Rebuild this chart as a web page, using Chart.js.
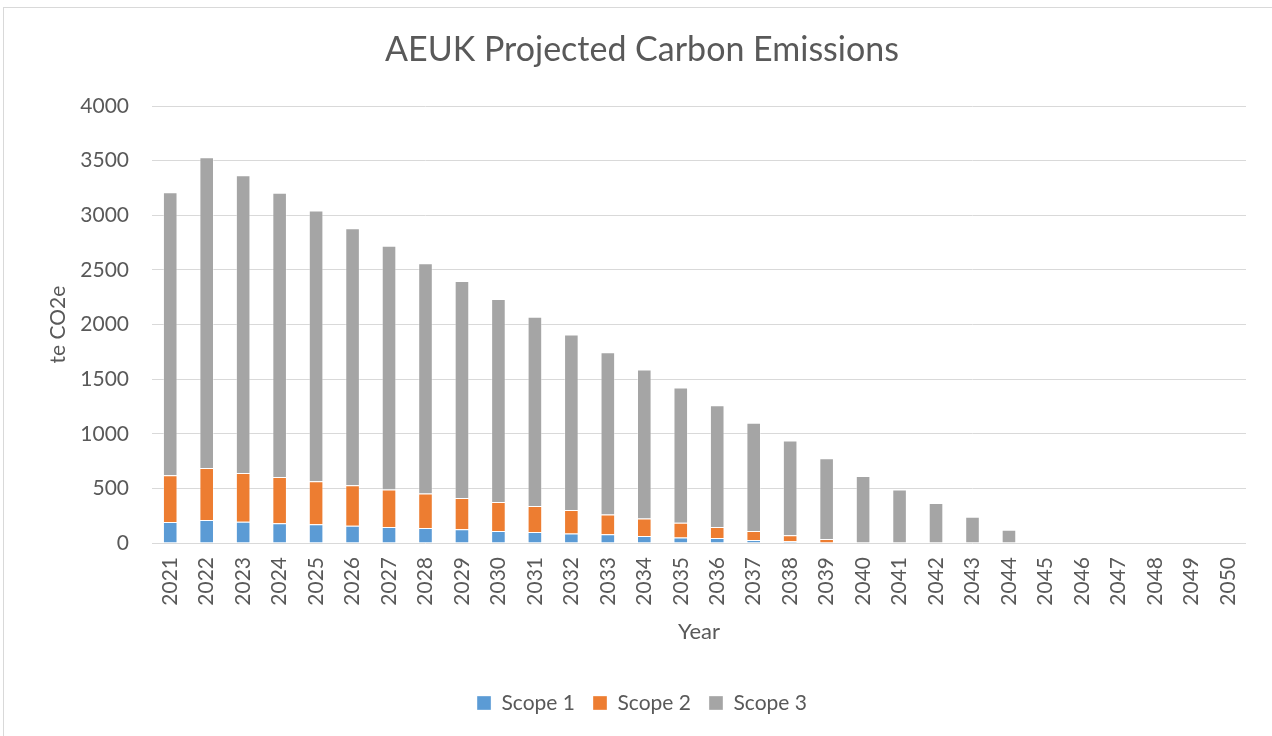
<!DOCTYPE html>
<html>
<head>
<meta charset="utf-8">
<script src="https://cdn.jsdelivr.net/npm/chart.js@4"></script>
<style>
  html, body { margin: 0; padding: 0; background: #fff; overflow: hidden; }
  #frame { position: absolute; left: 3px; top: 7px; width: 1300px; height: 800px; border: 1px solid #d9d9d9; box-sizing: border-box; }
  #c { position: absolute; left: 0; top: 0; }
</style>
</head>
<body>
<div id="frame"></div>
<canvas id="c" width="1272" height="736"></canvas>
<script>
const years = ["2021","2022","2023","2024","2025","2026","2027","2028","2029","2030",
  "2031","2032","2033","2034","2035","2036","2037","2038","2039","2040",
  "2041","2042","2043","2044","2045","2046","2047","2048","2049","2050"];
const scope1 = [192,211,195,180,171,159,147,137,125,110,101,88,79,64,51,46,27,15,5,0,0,0,0,0,0,0,0,0,0,0];
const scope2 = [427,476,446,425,394,369,342,315,287,266,238,214,183,161,135,101,83,55,32,0,0,0,0,0,0,0,0,0,0,0];
const scope3 = [2591,2843,2726,2600,2478,2353,2231,2109,1987,1858,1733,1606,1485,1364,1238,1115,991,868,739,614,489,367,241,122,0,0,0,0,0,0];
const seriesNames = ["Scope 1", "Scope 2", "Scope 3"];
const yTicks = [0, 500, 1000, 1500, 2000, 2500, 3000, 3500, 4000];

const FONT = "Lato, 'Open Sans', sans-serif";
const TXT = "#595959";
const GRID = "#d9d9d9";

const mk = (label, data, color) => ({
  label, data, backgroundColor: color,
  borderColor: "rgba(255,255,255,0.35)", borderWidth: 1,
  categoryPercentage: 0.8, barPercentage: 0.5
});

new Chart(document.getElementById("c"), {
  type: "bar",
  data: {
    labels: years,
    datasets: [
      mk(seriesNames[0], scope1, "#5B9BD5"),
      mk(seriesNames[1], scope2, "#ED7D31"),
      mk(seriesNames[2], scope3, "#A5A5A5")
    ]
  },
  options: {
    responsive: false,
    animation: false,
    devicePixelRatio: 1,
    layout: { padding: { left: 12, right: 0, top: 0, bottom: 12.5 } },
    plugins: {
      tooltip: { enabled: false },
      title: {
        display: true,
        text: "AEUK Projected Carbon Emissions",
        color: TXT,
        font: { family: FONT, size: 34, weight: "normal" },
        padding: { top: 29.6, bottom: 35.6 }
      },
      legend: {
        position: "bottom",
        labels: {
          color: TXT,
          font: { family: FONT, size: 21 },
          boxWidth: 14, boxHeight: 14,
          padding: 18
        }
      }
    },
    scales: {
      x: {
        stacked: true,
        grid: { display: false, drawTicks: false },
        border: { display: false },
        ticks: {
          color: TXT, font: { family: FONT, size: 21 },
          minRotation: 90, maxRotation: 90, padding: 14, autoSkip: false
        },
        title: {
          display: true, text: "Year", color: TXT,
          font: { family: FONT, size: 22 },
          padding: { top: 0, bottom: 29.3 }
        },
        afterFit: (s) => { s.height = 131.5; }
      },
      y: {
        stacked: true,
        min: 0, max: 4000,
        afterBuildTicks: (s) => { s.ticks = yTicks.map(v => ({ value: v })); },
        grid: { color: GRID, lineWidth: 1, drawTicks: false },
        border: { display: false },
        ticks: {
          color: TXT, font: { family: FONT, size: 21 }, padding: 23,
          callback: (v) => String(v)
        },
        title: {
          display: true, text: "te CO2e", color: TXT,
          font: { family: FONT, size: 21 },
          padding: { top: 33.4, bottom: 0 }
        },
        afterFit: (s) => { s.width = 140; }
      },
      yRight: {
        position: "right",
        display: true,
        grid: { display: false, drawTicks: false },
        border: { display: false },
        ticks: { display: false },
        afterFit: (s) => { s.width = 26; }
      }
    }
  }
});
</script>
</body>
</html>
